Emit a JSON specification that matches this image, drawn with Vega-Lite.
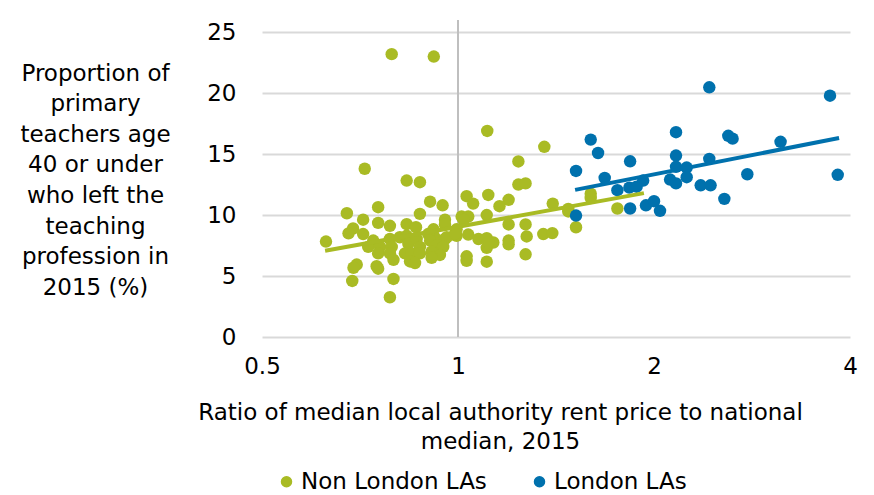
{
  "$schema": "https://vega.github.io/schema/vega-lite/v6.json",
  "autosize": {"type": "none"},
  "width": 588,
  "height": 317,
  "padding": {"left": 262, "top": 20, "right": 24, "bottom": 158},
  "background": "white",
  "config": {
    "view": {"stroke": null},
    "font": "DejaVu Sans",
    "axis": {"labelFont": "DejaVu Sans", "titleFont": "DejaVu Sans", "labelColor": "#000000", "titleColor": "#000000", "titleFontWeight": "normal", "labelFontSize": 23, "titleFontSize": 23},
    "legend": {"labelFont": "DejaVu Sans", "labelFontSize": 23, "labelColor": "#000000", "labelLimit": 400}
  },
  "datasets": {
    "points": [
      {"series": "Non London LAs", "ratio": 0.791, "pct": 23.2},
      {"series": "Non London LAs", "ratio": 0.918, "pct": 23.0},
      {"series": "Non London LAs", "ratio": 1.109, "pct": 16.9},
      {"series": "Non London LAs", "ratio": 1.357, "pct": 15.6},
      {"series": "Non London LAs", "ratio": 0.719, "pct": 13.8},
      {"series": "Non London LAs", "ratio": 1.238, "pct": 14.4},
      {"series": "Non London LAs", "ratio": 0.834, "pct": 12.83},
      {"series": "Non London LAs", "ratio": 0.874, "pct": 12.7},
      {"series": "Non London LAs", "ratio": 1.238, "pct": 12.5},
      {"series": "Non London LAs", "ratio": 1.27, "pct": 12.6},
      {"series": "Non London LAs", "ratio": 1.113, "pct": 11.65},
      {"series": "Non London LAs", "ratio": 1.031, "pct": 11.55},
      {"series": "Non London LAs", "ratio": 1.196, "pct": 11.25},
      {"series": "Non London LAs", "ratio": 0.906, "pct": 11.1},
      {"series": "Non London LAs", "ratio": 1.055, "pct": 10.94},
      {"series": "Non London LAs", "ratio": 0.947, "pct": 10.8},
      {"series": "Non London LAs", "ratio": 1.398, "pct": 10.94},
      {"series": "Non London LAs", "ratio": 1.158, "pct": 10.73},
      {"series": "Non London LAs", "ratio": 0.754, "pct": 10.65},
      {"series": "Non London LAs", "ratio": 0.675, "pct": 10.15},
      {"series": "Non London LAs", "ratio": 0.874, "pct": 10.1},
      {"series": "Non London LAs", "ratio": 1.107, "pct": 10.0},
      {"series": "Non London LAs", "ratio": 1.013, "pct": 9.88},
      {"series": "Non London LAs", "ratio": 1.037, "pct": 9.88},
      {"series": "Non London LAs", "ratio": 1.02, "pct": 9.6},
      {"series": "Non London LAs", "ratio": 1.477, "pct": 10.5},
      {"series": "Non London LAs", "ratio": 1.477, "pct": 10.3},
      {"series": "Non London LAs", "ratio": 1.599, "pct": 11.75},
      {"series": "Non London LAs", "ratio": 1.599, "pct": 11.4},
      {"series": "Non London LAs", "ratio": 1.757, "pct": 10.54},
      {"series": "Non London LAs", "ratio": 1.518, "pct": 9.0},
      {"series": "Non London LAs", "ratio": 1.352, "pct": 8.44},
      {"series": "Non London LAs", "ratio": 1.396, "pct": 8.52},
      {"series": "Non London LAs", "ratio": 0.715, "pct": 9.62},
      {"series": "Non London LAs", "ratio": 0.69, "pct": 8.9},
      {"series": "Non London LAs", "ratio": 0.679, "pct": 8.5},
      {"series": "Non London LAs", "ratio": 0.715, "pct": 8.44},
      {"series": "Non London LAs", "ratio": 0.627, "pct": 7.83},
      {"series": "Non London LAs", "ratio": 0.754, "pct": 9.36},
      {"series": "Non London LAs", "ratio": 0.786, "pct": 9.12},
      {"series": "Non London LAs", "ratio": 0.834, "pct": 9.25},
      {"series": "Non London LAs", "ratio": 0.862, "pct": 9.0},
      {"series": "Non London LAs", "ratio": 0.955, "pct": 9.62},
      {"series": "Non London LAs", "ratio": 0.955, "pct": 9.23},
      {"series": "Non London LAs", "ratio": 0.917, "pct": 8.83},
      {"series": "Non London LAs", "ratio": 0.92, "pct": 8.18},
      {"series": "Non London LAs", "ratio": 0.955, "pct": 8.04},
      {"series": "Non London LAs", "ratio": 0.995, "pct": 8.3},
      {"series": "Non London LAs", "ratio": 0.995, "pct": 8.83},
      {"series": "Non London LAs", "ratio": 1.037, "pct": 8.4},
      {"series": "Non London LAs", "ratio": 1.075, "pct": 8.04},
      {"series": "Non London LAs", "ratio": 1.107, "pct": 8.1},
      {"series": "Non London LAs", "ratio": 1.133, "pct": 7.75},
      {"series": "Non London LAs", "ratio": 1.107, "pct": 7.31},
      {"series": "Non London LAs", "ratio": 1.113, "pct": 7.78},
      {"series": "Non London LAs", "ratio": 1.196, "pct": 9.23},
      {"series": "Non London LAs", "ratio": 1.196, "pct": 7.91},
      {"series": "Non London LAs", "ratio": 1.196, "pct": 7.6},
      {"series": "Non London LAs", "ratio": 1.27, "pct": 9.23},
      {"series": "Non London LAs", "ratio": 1.275, "pct": 8.25},
      {"series": "Non London LAs", "ratio": 1.27, "pct": 6.78},
      {"series": "Non London LAs", "ratio": 1.031, "pct": 6.62},
      {"series": "Non London LAs", "ratio": 1.031, "pct": 6.25},
      {"series": "Non London LAs", "ratio": 1.107, "pct": 6.18},
      {"series": "Non London LAs", "ratio": 0.688, "pct": 4.6},
      {"series": "Non London LAs", "ratio": 0.796, "pct": 4.76},
      {"series": "Non London LAs", "ratio": 0.786, "pct": 3.26},
      {"series": "Non London LAs", "ratio": 0.754, "pct": 5.6},
      {"series": "Non London LAs", "ratio": 0.699, "pct": 5.94},
      {"series": "Non London LAs", "ratio": 0.741, "pct": 7.91},
      {"series": "Non London LAs", "ratio": 0.728, "pct": 7.39},
      {"series": "Non London LAs", "ratio": 0.759, "pct": 7.39},
      {"series": "Non London LAs", "ratio": 0.754, "pct": 6.86},
      {"series": "Non London LAs", "ratio": 0.786, "pct": 8.04},
      {"series": "Non London LAs", "ratio": 0.791, "pct": 7.39},
      {"series": "Non London LAs", "ratio": 0.786, "pct": 6.86},
      {"series": "Non London LAs", "ratio": 0.796, "pct": 6.33},
      {"series": "Non London LAs", "ratio": 0.814, "pct": 8.18},
      {"series": "Non London LAs", "ratio": 0.834, "pct": 8.3},
      {"series": "Non London LAs", "ratio": 0.839, "pct": 7.65},
      {"series": "Non London LAs", "ratio": 0.829, "pct": 6.86},
      {"series": "Non London LAs", "ratio": 0.864, "pct": 8.04},
      {"series": "Non London LAs", "ratio": 0.874, "pct": 7.39},
      {"series": "Non London LAs", "ratio": 0.849, "pct": 6.86},
      {"series": "Non London LAs", "ratio": 0.874, "pct": 6.86},
      {"series": "Non London LAs", "ratio": 0.844, "pct": 6.2},
      {"series": "Non London LAs", "ratio": 0.859, "pct": 6.07},
      {"series": "Non London LAs", "ratio": 0.9, "pct": 8.44},
      {"series": "Non London LAs", "ratio": 0.906, "pct": 7.91},
      {"series": "Non London LAs", "ratio": 0.927, "pct": 7.52},
      {"series": "Non London LAs", "ratio": 0.911, "pct": 6.99},
      {"series": "Non London LAs", "ratio": 0.961, "pct": 8.18},
      {"series": "Non London LAs", "ratio": 0.99, "pct": 8.5},
      {"series": "Non London LAs", "ratio": 0.691, "pct": 5.68},
      {"series": "Non London LAs", "ratio": 0.75, "pct": 5.81},
      {"series": "Non London LAs", "ratio": 0.949, "pct": 7.39},
      {"series": "Non London LAs", "ratio": 0.938, "pct": 6.73},
      {"series": "Non London LAs", "ratio": 0.911, "pct": 6.5},
      {"series": "London LAs", "ratio": 1.518, "pct": 13.62},
      {"series": "London LAs", "ratio": 1.599, "pct": 16.19},
      {"series": "London LAs", "ratio": 1.641, "pct": 15.09},
      {"series": "London LAs", "ratio": 1.68, "pct": 13.04},
      {"series": "London LAs", "ratio": 1.518, "pct": 9.96},
      {"series": "London LAs", "ratio": 1.757, "pct": 12.04},
      {"series": "London LAs", "ratio": 1.838, "pct": 14.41},
      {"series": "London LAs", "ratio": 1.833, "pct": 12.25},
      {"series": "London LAs", "ratio": 1.881, "pct": 12.33},
      {"series": "London LAs", "ratio": 1.925, "pct": 12.83},
      {"series": "London LAs", "ratio": 1.838, "pct": 10.54},
      {"series": "London LAs", "ratio": 1.944, "pct": 10.8},
      {"series": "London LAs", "ratio": 2.0, "pct": 11.14},
      {"series": "London LAs", "ratio": 2.043, "pct": 10.35},
      {"series": "London LAs", "ratio": 2.162, "pct": 16.8},
      {"series": "London LAs", "ratio": 2.162, "pct": 14.88},
      {"series": "London LAs", "ratio": 2.162, "pct": 13.96},
      {"series": "London LAs", "ratio": 2.117, "pct": 12.91},
      {"series": "London LAs", "ratio": 2.162, "pct": 12.6},
      {"series": "London LAs", "ratio": 2.245, "pct": 13.9},
      {"series": "London LAs", "ratio": 2.245, "pct": 13.11},
      {"series": "London LAs", "ratio": 2.359, "pct": 12.44},
      {"series": "London LAs", "ratio": 2.443, "pct": 12.44},
      {"series": "London LAs", "ratio": 2.432, "pct": 14.61},
      {"series": "London LAs", "ratio": 2.432, "pct": 20.48},
      {"series": "London LAs", "ratio": 2.565, "pct": 11.33},
      {"series": "London LAs", "ratio": 2.601, "pct": 16.5},
      {"series": "London LAs", "ratio": 2.641, "pct": 16.27},
      {"series": "London LAs", "ratio": 2.782, "pct": 13.35},
      {"series": "London LAs", "ratio": 3.129, "pct": 16.01},
      {"series": "London LAs", "ratio": 3.727, "pct": 19.79},
      {"series": "London LAs", "ratio": 3.83, "pct": 13.3}
    ],
    "trend": [
      {"series": "Non London LAs", "ratio": 0.625, "pct": 7.07},
      {"series": "Non London LAs", "ratio": 1.93, "pct": 11.8},
      {"series": "London LAs", "ratio": 1.513, "pct": 12.07},
      {"series": "London LAs", "ratio": 3.848, "pct": 16.32}
    ],
    "crossing": [{"ratio": 1}]
  },
  "layer": [
    {
      "data": {"name": "crossing"},
      "mark": {"type": "rule", "color": "#bfbfbf", "strokeWidth": 2},
      "encoding": {
        "x": {"field": "ratio", "type": "quantitative", "scale": {"type": "log", "base": 2, "domain": [0.5, 4]}}
      }
    },
    {
      "data": {"name": "points"},
      "mark": {"type": "circle", "size": 155, "opacity": 1},
      "encoding": {
        "x": {
          "field": "ratio", "type": "quantitative",
          "scale": {"type": "log", "base": 2, "domain": [0.5, 4]},
          "axis": {
            "values": [0.5, 1, 2, 4], "grid": false, "domain": false, "ticks": false, "tickSize": 0,
            "labelPadding": 18, "labelFlush": false, "labelOverlap": false,
            "format": "~g",
            "title": ["Ratio of median local authority rent price to national", "median, 2015"],
            "titleX": 238, "titleY": 82, "titleAlign": "center", "titleBaseline": "alphabetic", "titleAnchor": null, "titleLineHeight": 29
          }
        },
        "y": {
          "field": "pct", "type": "quantitative",
          "scale": {"domain": [0, 25]},
          "axis": {
            "values": [0, 5, 10, 15, 20, 25], "grid": true, "gridColor": "#d9d9d9", "gridWidth": 2,
            "domain": false, "ticks": false, "tickSize": 0, "labelPadding": 26,
            "title": ["Proportion of", "primary", "teachers age", "40 or under", "who left the", "teaching", "profession in", "2015 (%)"],
            "titleAngle": 0, "titleX": -167, "titleY": 60, "titleAlign": "center", "titleBaseline": "alphabetic", "titleLineHeight": 30.6
          }
        },
        "color": {
          "field": "series", "type": "nominal",
          "scale": {"domain": ["Non London LAs", "London LAs"], "range": ["#a9bb24", "#0071ad"]},
          "legend": {
            "title": null, "orient": "none", "direction": "horizontal", "legendX": 13, "legendY": 450,
            "symbolType": "circle", "symbolSize": 100, "labelOffset": 3, "columnPadding": 41
          }
        }
      }
    },
    {
      "data": {"name": "trend"},
      "mark": {"type": "line", "strokeWidth": 4, "strokeCap": "butt"},
      "encoding": {
        "x": {"field": "ratio", "type": "quantitative", "scale": {"type": "log", "base": 2, "domain": [0.5, 4]}},
        "y": {"field": "pct", "type": "quantitative"},
        "detail": {"field": "series", "type": "nominal"},
        "stroke": {
          "field": "series", "type": "nominal",
          "scale": {"domain": ["Non London LAs", "London LAs"], "range": ["#a9bb24", "#0071ad"]},
          "legend": null
        }
      }
    }
  ]
}
